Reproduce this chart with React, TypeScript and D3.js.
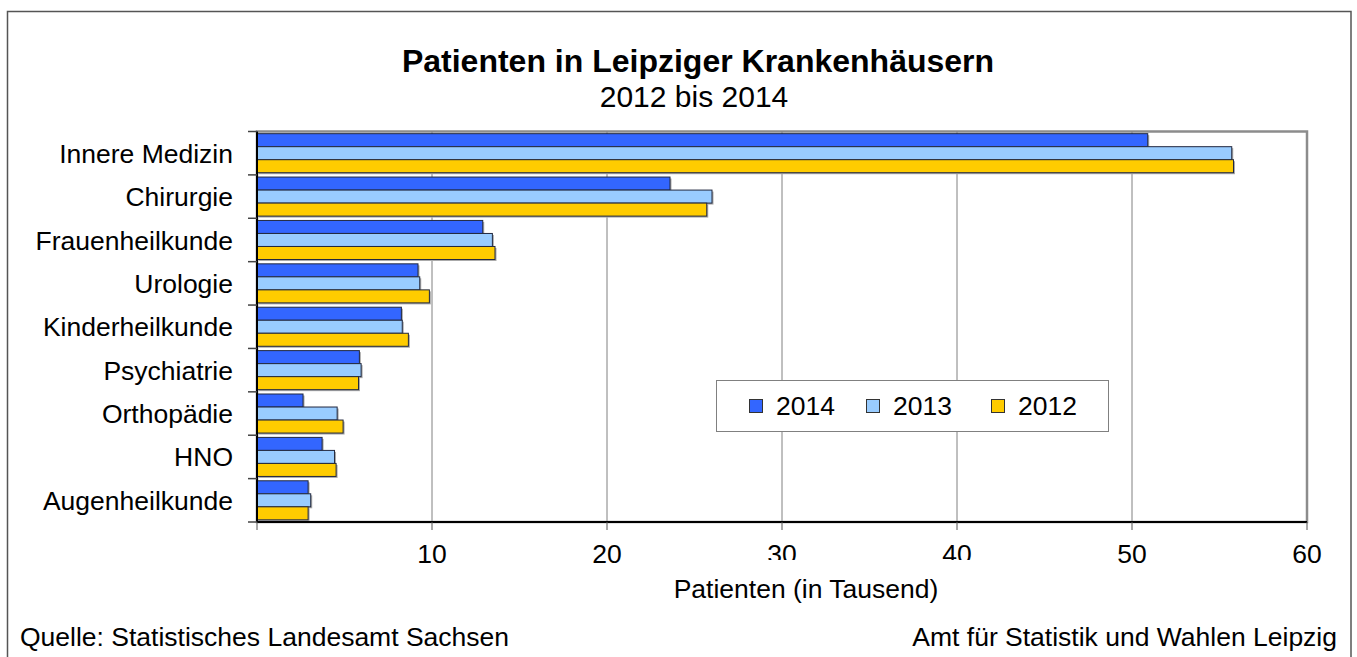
import React from 'react'
import * as d3 from 'd3'

const categories = [
  'Innere Medizin',
  'Chirurgie',
  'Frauenheilkunde',
  'Urologie',
  'Kinderheilkunde',
  'Psychiatrie',
  'Orthopädie',
  'HNO',
  'Augenheilkunde',
]
const years = ['2014', '2013', '2012']
const v2014 = [50.9, 23.6, 12.9, 9.2, 8.25, 5.85, 2.63, 3.72, 2.92]
const v2013 = [55.7, 26.0, 13.45, 9.3, 8.3, 5.95, 4.58, 4.43, 3.07]
const v2012 = [55.8, 25.7, 13.6, 9.85, 8.65, 5.8, 4.92, 4.52, 2.92]
const xTicks = [0, 10, 20, 30, 40, 50, 60]
const colors = ['#3366FF', '#99CCFF', '#FFCC00']

const W = 1357
const H = 657
const margin = { top: 131.5, right: 50, bottom: 135, left: 257 }
const font = '"Liberation Sans", Arial, sans-serif'
const fs = 26.5

export default function App() {
  const series = [v2014, v2013, v2012]
  const x = d3.scaleLinear().domain([0, 60]).range([margin.left, W - margin.right])
  const y = d3.scaleBand<string>()
    .domain(categories)
    .range([margin.top, H - margin.bottom])
    .paddingInner(0.1)
    .paddingOuter(0.05)
  const ySub = d3.scaleBand<string>().domain(years).range([0, y.bandwidth()])
  const step = y.step()
  const top = margin.top
  const bottom = H - margin.bottom
  const left = x(0)
  const right = x(60)

  return (
    <svg width={W} height={H} style={{ position: 'absolute', left: 0, top: 0, background: '#fff' }}
      fontFamily={font}>
      <rect x={7.5} y={11.5} width={1343.5} height={660} fill="#fff" stroke="#555" strokeWidth={1.5} />

      <text x={698} y={72} textAnchor="middle" fontSize={32} fontWeight="bold">Patienten in Leipziger Krankenhäusern</text>
      <text x={694} y={107} textAnchor="middle" fontSize={30}>2012 bis 2014</text>

      {/* plot frame */}
      <rect x={left} y={top} width={right - left} height={bottom - top} fill="#fff" stroke="#8c8c8c" strokeWidth={2.5} />

      {/* grid */}
      {xTicks.filter(t => t > 0 && t < 60).map(t => (
        <line key={t} x1={x(t)} x2={x(t)} y1={top} y2={bottom} stroke="#808080" strokeWidth={1} />
      ))}

      {/* shadows */}
      {series.map((vals, si) => vals.map((v, i) => (
        <rect key={`s${si}-${i}`} x={left + 1.5} y={(y(categories[i]) ?? 0) + (ySub(years[si]) ?? 0) + 1.5}
          width={x(v) - left} height={ySub.bandwidth()} fill="#aaa" />
      )))}
      {/* bars */}
      {series.map((vals, si) => vals.map((v, i) => (
        <rect key={`b${si}-${i}`} x={left} y={(y(categories[i]) ?? 0) + (ySub(years[si]) ?? 0)}
          width={x(v) - left} height={ySub.bandwidth()} fill={colors[si]} stroke="#22283f" strokeWidth={1} />
      )))}

      {/* y axis */}
      <line x1={left} x2={left} y1={top} y2={bottom} stroke="#000" strokeWidth={2} />
      {d3.range(categories.length + 1).map(i => (
        <line key={i} x1={left - 9} x2={left} y1={top + i * step} y2={top + i * step} stroke="#444" strokeWidth={1.5} />
      ))}
      {categories.map(c => (
        <text key={c} x={233} y={(y(c) ?? 0) + y.bandwidth() / 2} dy="0.36em" textAnchor="end" fontSize={fs}>{c}</text>
      ))}

      {/* x axis */}
      <line x1={left} x2={right} y1={bottom} y2={bottom} stroke="#000" strokeWidth={2} />
      {xTicks.map(t => (
        <line key={t} x1={x(t)} x2={x(t)} y1={bottom} y2={bottom + 8} stroke="#555" strokeWidth={1} />
      ))}
      {xTicks.filter(t => t > 0).map(t => (
        <text key={t} x={x(t)} y={563} textAnchor="middle" fontSize={fs}>{t}</text>
      ))}
      <rect x={650} y={560} width={340} height={46} fill="#fff" />
      <text x={806} y={598} textAnchor="middle" fontSize={fs}>Patienten (in Tausend)</text>

      {/* legend */}
      <rect x={716.5} y={380.5} width={392} height={51} fill="#fff" stroke="#808080" strokeWidth={1} />
      {years.map((yr, i) => {
        const sx = [749, 866, 991][i]
        return (
          <g key={yr}>
            <rect x={sx + 0.5} y={399.5} width={13} height={13} fill={colors[i]} stroke="#333" strokeWidth={1} />
            <text x={sx + 27} y={415} fontSize={fs}>{yr}</text>
          </g>
        )
      })}

      <text x={20} y={646} fontSize={fs}>Quelle: Statistisches Landesamt Sachsen</text>
      <text x={1337} y={646} textAnchor="end" fontSize={fs}>Amt für Statistik und Wahlen Leipzig</text>
    </svg>
  )
}
